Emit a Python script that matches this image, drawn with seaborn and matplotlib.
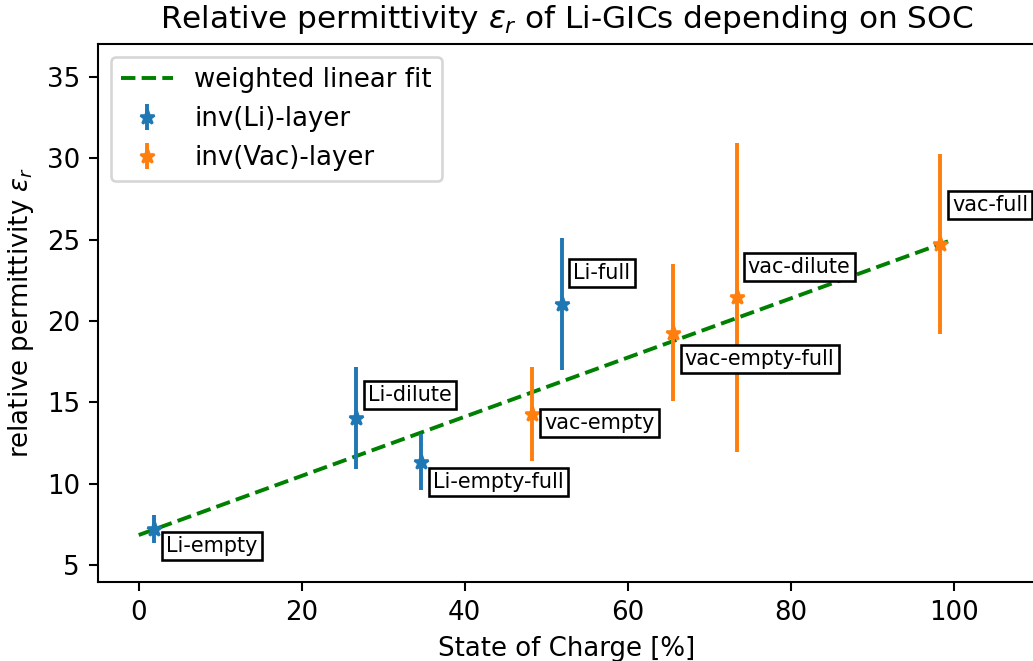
import numpy as np
import pandas as pd
import matplotlib
matplotlib.use("Agg")
import matplotlib.pyplot as plt
import seaborn as sns

# ---- data ----
li_labels = ["Li-empty", "Li-dilute", "Li-empty-full", "Li-full"]
li_soc = [1.9, 26.7, 34.7, 52.0]
li_eps = [7.2, 14.05, 11.35, 21.03]
li_err = [0.85, 3.13, 1.72, 4.06]

vac_labels = ["vac-empty", "vac-empty-full", "vac-dilute", "vac-full"]
vac_soc = [48.3, 65.6, 73.4, 98.4]
vac_eps = [14.3, 19.28, 21.46, 24.72]
vac_err = [2.9, 4.21, 9.5, 5.53]

fit_soc = [0, 100]
fit_eps = [6.84, 25.02]

# label offsets (pixels) for annotation boxes
li_off = [(12, -17), (12, 23), (11.5, -20), (11, 31)]
vac_off = [(12, -9), (11.5, -26), (11, 30), (11.5, 39)]

DPI = 187
fig = plt.figure(figsize=(1033 / DPI, 661 / DPI), dpi=DPI)
W, H = 1033, 661
left, right, top, bottom = 98, 1035, 43.7, 581.7
ax = fig.add_axes([left / W, (H - bottom) / H, (right - left) / W, (bottom - top) / H])

fit_df = pd.DataFrame({"soc": fit_soc, "eps": fit_eps})
sns.lineplot(data=fit_df, x="soc", y="eps", ax=ax, color="green", linestyle="--",
             linewidth=1.5, label="weighted linear fit")

ax.errorbar(li_soc, li_eps, yerr=li_err, fmt="*", color="tab:blue", ecolor="tab:blue",
            markersize=6, label="inv(Li)-layer")
ax.errorbar(vac_soc, vac_eps, yerr=vac_err, fmt="*", color="tab:orange", ecolor="tab:orange",
            markersize=6, label="inv(Vac)-layer")

bbox = dict(boxstyle="square", facecolor="white", edgecolor="black", pad=0.2)
for lab, x, y, off in zip(li_labels, li_soc, li_eps, li_off):
    ax.annotate(lab, (x, y), xytext=off, textcoords="offset pixels", ha="left", va="center",
                fontsize=8, bbox=bbox)
for lab, x, y, off in zip(vac_labels, vac_soc, vac_eps, vac_off):
    ax.annotate(lab, (x, y), xytext=off, textcoords="offset pixels", ha="left", va="center",
                fontsize=8, bbox=bbox)

ax.set_xlim(-5, 110)
ax.set_ylim(3.97, 37.05)
ax.set_xticks([0, 20, 40, 60, 80, 100])
ax.set_yticks([5, 10, 15, 20, 25, 30, 35])
ax.set_xlabel("State of Charge [%]")
ax.set_ylabel(r"relative permittivity $\varepsilon_r$")
ax.set_title(r"Relative permittivity $\varepsilon_r$ of Li-GICs depending on SOC", fontsize=12)
ax.legend(loc="upper left")

fig.savefig("out.png", dpi=DPI)
